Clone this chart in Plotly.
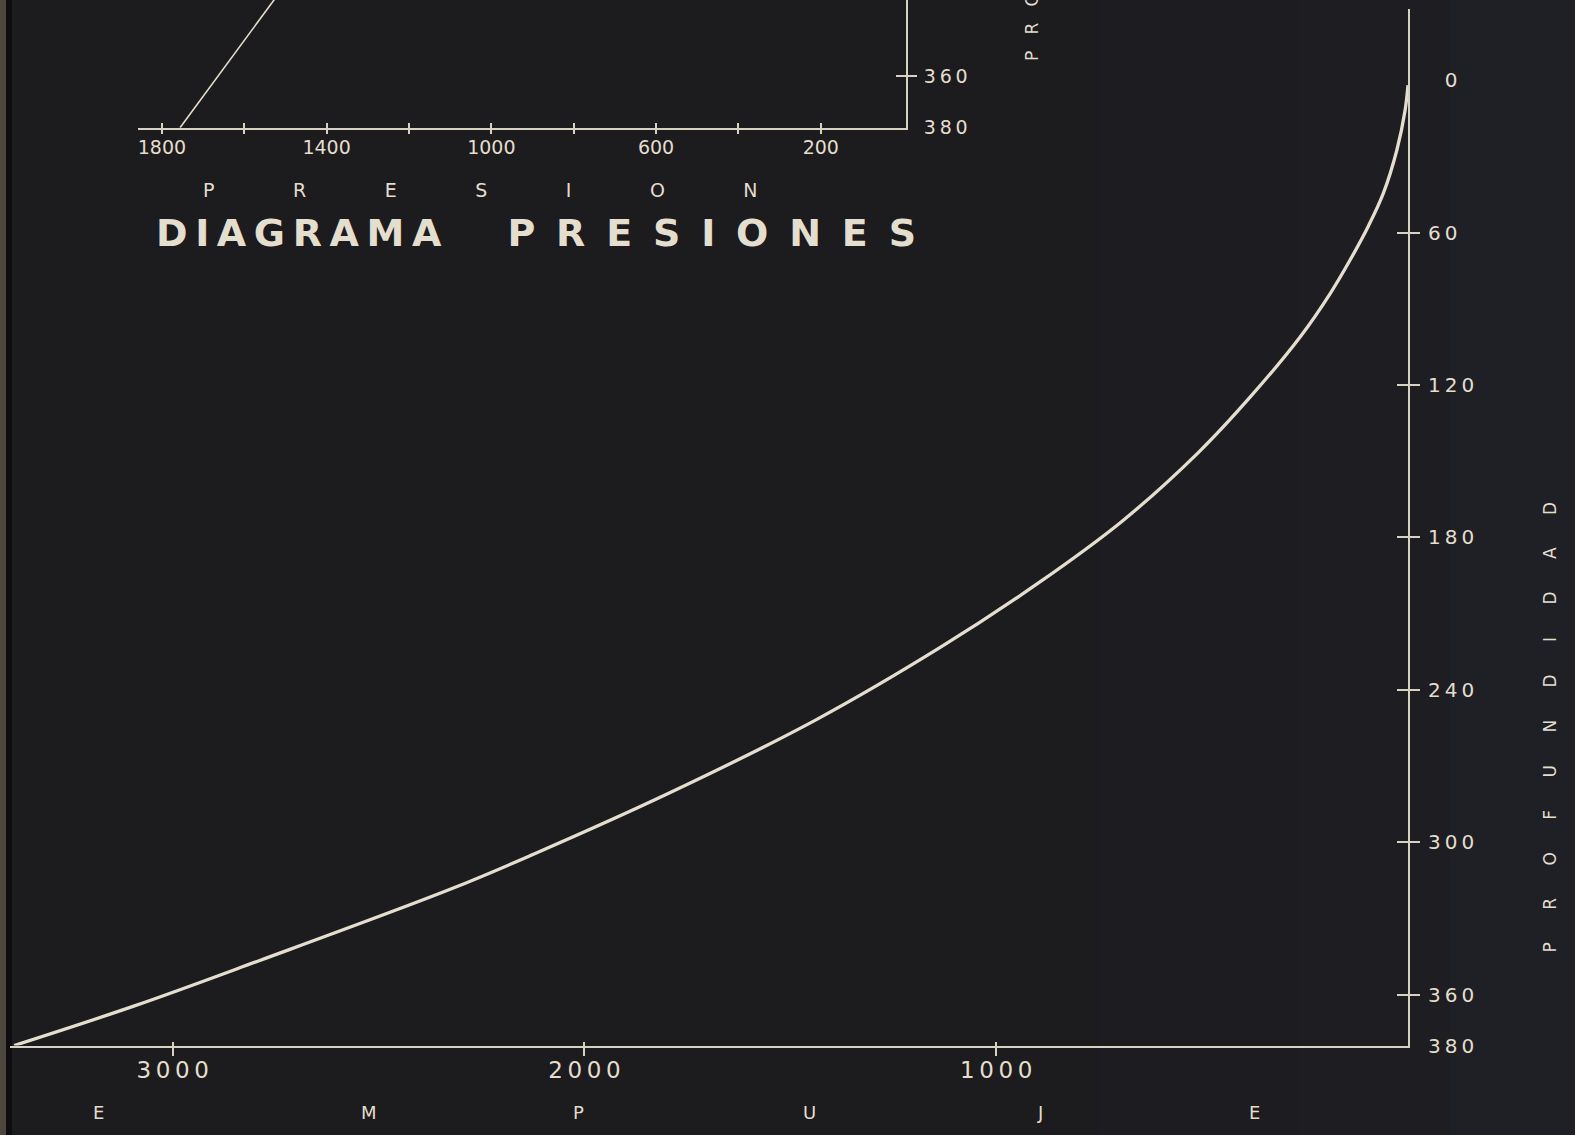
import plotly.graph_objects as go

# ---------------- data ----------------
# Main diagram: thrust (empuje) against depth (profundidad)
profundidad = [2, 11.8, 27.5, 44.6, 57.7, 70.9, 84.0, 101.1, 124.7, 146.4,
               173.3, 198.2, 223.2, 252.0, 280.9, 304.5, 318.3, 346.6, 364.3, 380]
empuje = [0, 7, 27, 60, 97, 141, 189, 262, 383, 508,
          692, 900, 1135, 1440, 1798, 2121, 2323, 2790, 3091, 3385]

# Inset diagram: pressure (presion) against depth
prof_presion = [0, 380]
presion = [0, 1756]

# axis ticks
emp_ticks = [3000, 2000, 1000]
prof_ticks = [0, 60, 120, 180, 240, 300, 360, 380]
prof_marks = [60, 120, 180, 240, 300, 360]
pres_ticks = [1800, 1600, 1400, 1200, 1000, 800, 600, 400, 200]
pres_labels = ["1800", "", "1400", "", "1000", "", "600", "", "200"]
inset_prof_ticks = [360, 380]
inset_prof_marks = [360]

# spaced-out title of the thrust axis, letter by letter
empuje_letters = list("EMPUJE")
empuje_letter_px = [98, 369, 578, 810, 1040, 1254]

# ---------------- style ----------------
W, H = 1575, 1148
VSCALE = 1.0111          # vertical pixel correction of the rendered page
BG = "#1c1b1e"
INK = "#e4dece"
AXIS = "#d8d2c2"
FONT = "DejaVu Sans"
THIN = "\u2009"
FIG = "\u2007"
NB = "\u00a0"


def fx(p):
    return p / W


def fy(p):
    return 1 - p * VSCALE / H


def spaced(word, sep):
    return sep.join(word)


def digits(v):
    s = THIN.join(str(v))
    # single-digit labels sit centred under the wider ones
    return FIG + THIN + s if v < 10 else s


main_x_dom = [fx(10), fx(1408)]
main_y_dom = [fy(1045), fy(9)]
main_x_rng = [3395, 0]
main_y_rng = [380, -28]

ins_x_dom = [fx(138), fx(906)]
ins_y_dom = [fy(127.7), 1.0]
ins_x_rng = [1858, -7]
ins_y_rng = [380, 380 - 127.7 / 2.585]

fig = go.Figure()

fig.add_trace(go.Scatter(
    x=empuje, y=profundidad, mode="lines", xaxis="x", yaxis="y",
    line=dict(color=INK, width=3.3, shape="spline", smoothing=1.0),
    hoverinfo="skip", showlegend=False))

fig.add_trace(go.Scatter(
    x=presion, y=prof_presion, mode="lines", xaxis="x2", yaxis="y2",
    line=dict(color=INK, width=1.6), hoverinfo="skip", showlegend=False))

# empty traces that carry the overlay axes used for crossing tick marks
for xa, ya in [("x3", "y"), ("x5", "y"), ("x", "y3"), ("x", "y4"),
               ("x4", "y2"), ("x6", "y2"), ("x2", "y5"), ("x2", "y6")]:
    fig.add_trace(go.Scatter(x=[], y=[], xaxis=xa, yaxis=ya,
                             showlegend=False, hoverinfo="skip"))

base = dict(showgrid=False, zeroline=False, tickcolor=AXIS, tickwidth=2,
            linecolor=AXIS, linewidth=2, fixedrange=True)
bare = dict(showgrid=False, zeroline=False, tickcolor=AXIS, tickwidth=2,
            showline=False, showticklabels=False, fixedrange=True)

fig.update_layout(
    width=W, height=H, autosize=False,
    margin=dict(l=0, r=0, t=0, b=0),
    paper_bgcolor=BG, plot_bgcolor="rgba(0,0,0,0)",
    font=dict(family=FONT, color=INK),
    showlegend=False,
    # main diagram axes
    xaxis=dict(base, domain=main_x_dom, range=main_x_rng, anchor="y",
               showline=True, ticks="",
               tickvals=emp_ticks, ticktext=[digits(v) for v in emp_ticks],
               tickfont=dict(size=23, color=INK), ticklabelstandoff=3),
    xaxis3=dict(bare, overlaying="x", anchor="y", range=main_x_rng,
                ticks="inside", ticklen=4, tickvals=emp_ticks),
    xaxis5=dict(bare, overlaying="x", anchor="y", range=main_x_rng,
                ticks="outside", ticklen=9, tickvals=emp_ticks),
    yaxis=dict(base, domain=main_y_dom, range=main_y_rng, anchor="x",
               side="right", showline=True, ticks="",
               tickvals=prof_ticks, ticktext=[digits(v) for v in prof_ticks],
               tickfont=dict(size=20, color=INK), ticklabelstandoff=14),
    yaxis3=dict(bare, overlaying="y", anchor="x", side="right",
                range=main_y_rng, ticks="outside", ticklen=11,
                tickvals=prof_marks),
    yaxis4=dict(bare, overlaying="y", anchor="x", side="right",
                range=main_y_rng, ticks="inside", ticklen=11,
                tickvals=prof_marks),
    # inset pressure diagram axes
    xaxis2=dict(base, domain=ins_x_dom, range=ins_x_rng, anchor="y2",
                showline=True, ticks="",
                tickvals=pres_ticks, ticktext=pres_labels,
                tickfont=dict(size=19, color=INK), ticklabelstandoff=1),
    xaxis4=dict(bare, overlaying="x2", anchor="y2", range=ins_x_rng,
                ticks="inside", ticklen=5, tickvals=pres_ticks),
    xaxis6=dict(bare, overlaying="x2", anchor="y2", range=ins_x_rng,
                ticks="outside", ticklen=5, tickvals=pres_ticks),
    yaxis2=dict(base, domain=ins_y_dom, range=ins_y_rng, anchor="x2",
                side="right", showline=True, ticks="",
                tickvals=inset_prof_ticks,
                ticktext=[digits(v) for v in inset_prof_ticks],
                tickfont=dict(size=19, color=INK), ticklabelstandoff=12),
    yaxis5=dict(bare, overlaying="y2", anchor="x2", side="right",
                range=ins_y_rng, ticks="outside", ticklen=10,
                tickvals=inset_prof_marks),
    yaxis6=dict(bare, overlaying="y2", anchor="x2", side="right",
                range=ins_y_rng, ticks="inside", ticklen=10,
                tickvals=inset_prof_marks),
)

# faint cool tint towards the right of the board
for x0, op in [(1100, 0.025), (1300, 0.035), (1450, 0.045)]:
    fig.add_shape(type="rect", xref="paper", yref="paper", x0=fx(x0), x1=1,
                  y0=0, y1=1, fillcolor="#4a5578", opacity=op, line_width=0,
                  layer="below")

# paper edge on the far left
fig.add_shape(type="rect", xref="paper", yref="paper", x0=0, x1=fx(6),
              y0=0, y1=1, fillcolor="#4b463e", line_width=0, layer="below")
fig.add_shape(type="rect", xref="paper", yref="paper", x0=fx(6), x1=fx(12),
              y0=0, y1=1, fillcolor="#0e0e0f", line_width=0, layer="below")

annotations = [
    dict(text=spaced("DIAGRAMA", THIN) + NB * 5 + spaced("PRESIONES", NB + THIN),
         x=fx(536), y=fy(233), font=dict(size=38, weight="bold")),
    dict(text=spaced("PRESION", NB * 13), x=fx(480), y=fy(190),
         font=dict(size=19)),
    dict(text=spaced("PROFUNDIDAD", NB * 6), x=fx(1550), y=fy(727),
         textangle=-90, font=dict(size=17)),
    dict(text=spaced("PROFUNDIDAD", NB * 3), x=fx(1032), y=fy(63),
         yanchor="bottom", textangle=-90, font=dict(size=17)),
]
for letter, px in zip(empuje_letters, empuje_letter_px):
    annotations.append(dict(text=letter, x=fx(px), y=fy(1112),
                            font=dict(size=18)))

for a in annotations:
    a.setdefault("xanchor", "center")
    a.setdefault("yanchor", "middle")
    a["font"].update(family=FONT, color=INK)
    fig.add_annotation(xref="paper", yref="paper", showarrow=False, **a)

# page background matches the board
page_js = """
var r = document.documentElement, b = document.body;
[r, b].forEach(function (e) {
  e.style.margin = '0'; e.style.padding = '0';
  e.style.background = '#1c1b1e';
});
"""

fig.write_html("out.html", post_script=page_js)
